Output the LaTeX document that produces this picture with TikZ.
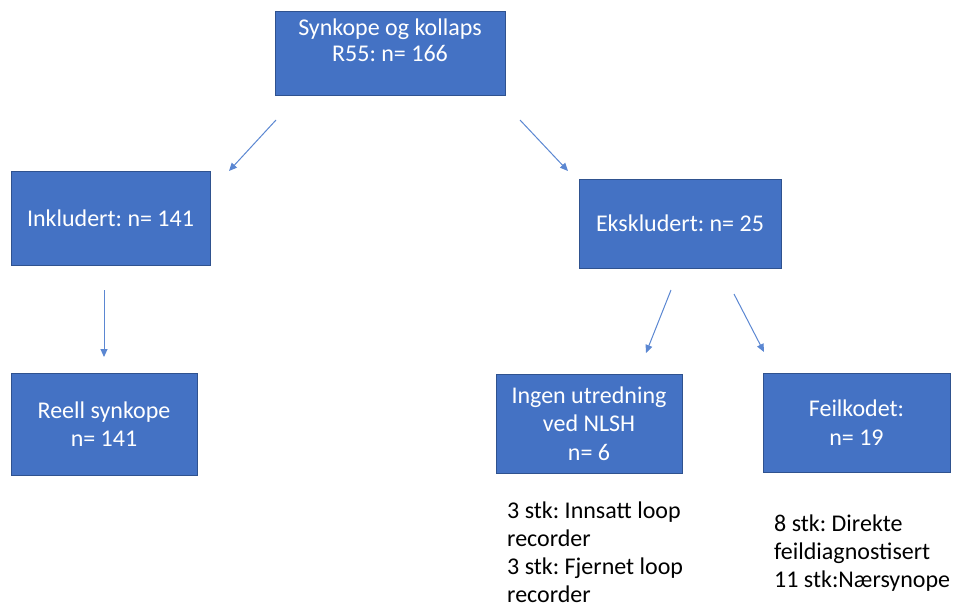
\documentclass[tikz,border=0pt]{standalone}
\usepackage{fontspec}
\setmainfont{Carlito}
\usetikzlibrary{arrows.meta}
\definecolor{boxblue}{RGB}{68,114,196}
\definecolor{boxedge}{RGB}{47,82,143}
\definecolor{arrowblue}{RGB}{91,135,210}
\frenchspacing
\begin{document}
\begin{tikzpicture}[x=1pt,y=-1pt,
  box/.style={draw=boxedge, line width=0.8pt, fill=boxblue, text=white, align=center,
    font=\fontsize{24}{28.5}\selectfont, inner sep=0pt},
  conn/.style={draw=arrowblue, line width=1pt, -{Triangle[length=8pt,width=7pt]}},
  note/.style={align=left, font=\fontsize{24}{28}\selectfont, inner sep=0pt, anchor=north west}]
\useasboundingbox[fill=white] (0,0) rectangle (954,608);

\node[box, minimum width=230pt, minimum height=84pt, font=\fontsize{24}{26.5}\selectfont] (top) at (390,53.5)
  {Synkope og kollaps\\R55: n= 166\\ };
\node[box, minimum width=199pt, minimum height=94pt] (incl) at (110.5,218) {Inkludert: n= 141};
\node[box, minimum width=202pt, minimum height=89pt] (eks) at (680,223.5) {Ekskludert: n= 25};
\node[box, minimum width=186pt, minimum height=102pt] (reell) at (104,424) {Reell synkope\\n= 141};
\node[box, minimum width=186pt, minimum height=99pt] (ingen) at (589,423.5) {Ingen utredning\\ved NLSH\\n= 6};
\node[box, minimum width=187pt, minimum height=99pt] (feil) at (856.5,422.5) {Feilkodet:\\n= 19};

\node[note] (ingennote) at (507,502) {3 stk: Innsatt loop\\recorder\\3 stk: Fjernet loop\\recorder};
\node[note] (feilnote) at (774,515) {8 stk: Direkte\\feildiagnostisert\\11 stk:Nærsynope};

\coordinate (a1s) at (276,120); \coordinate (a1e) at (229,171);
\coordinate (a2s) at (520,120); \coordinate (a2e) at (568,171);
\coordinate (a3s) at (104,290); \coordinate (a3e) at (104,357);
\coordinate (a4s) at (671,290); \coordinate (a4e) at (646,353);
\coordinate (a5s) at (734,294); \coordinate (a5e) at (764,352);

\draw[conn] (a1s) -- (a1e);
\draw[conn] (a2s) -- (a2e);
\draw[conn] (a3s) -- (a3e);
\draw[conn] (a4s) -- (a4e);
\draw[conn] (a5s) -- (a5e);
\end{tikzpicture}
\end{document}
